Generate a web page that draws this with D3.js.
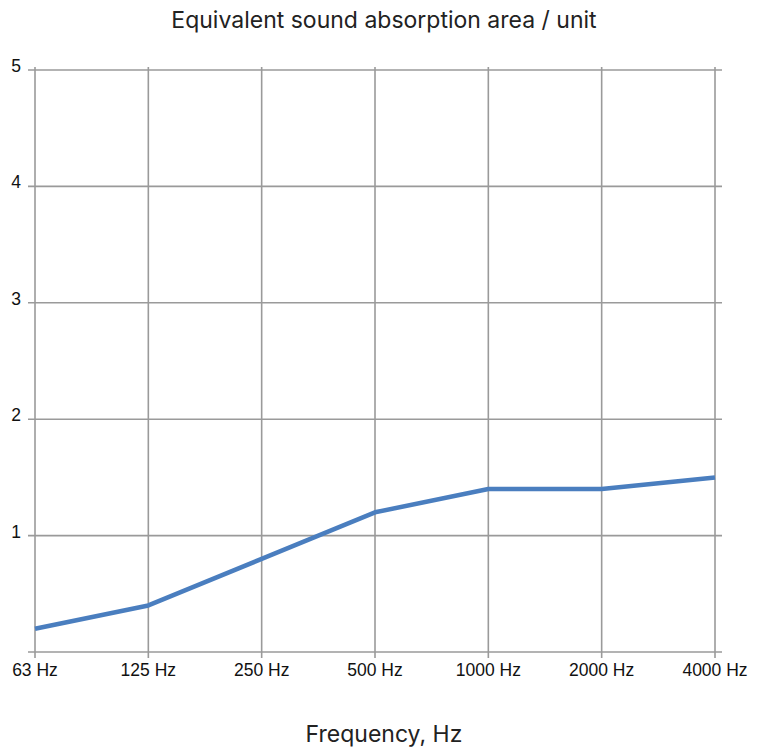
<!DOCTYPE html>
<html>
<head>
<meta charset="utf-8">
<script src="https://cdn.jsdelivr.net/npm/d3@7"></script>
<style>
  body { margin: 0; background: #fff; }
</style>
</head>
<body>
<div id="chart"></div>
<script>
const categories = ["63 Hz", "125 Hz", "250 Hz", "500 Hz", "1000 Hz", "2000 Hz", "4000 Hz"];
const values = [0.2, 0.4, 0.8, 1.2, 1.4, 1.4, 1.5];
const yTicks = [1, 2, 3, 4, 5];

const W = 761, H = 748;
const margin = { top: 70, right: 46, bottom: 96, left: 35 };
const width = W - margin.left - margin.right;
const height = H - margin.top - margin.bottom;

const svg = d3.select("#chart").append("svg")
    .attr("width", W)
    .attr("height", H);

const g = svg.append("g")
    .attr("transform", `translate(${margin.left},${margin.top})`);

const xScale = d3.scalePoint().domain(categories).range([0, width]);
const yScale = d3.scaleLinear().domain([0, 5]).range([height, 0]);

const gridColor = "#9a9a9a";

// horizontal grid + y ticks
g.selectAll(".hgrid")
    .data([0].concat(yTicks))
    .enter().append("line")
    .attr("x1", -7)
    .attr("x2", width + 7)
    .attr("y1", d => yScale(d))
    .attr("y2", d => yScale(d))
    .attr("stroke", gridColor)
    .attr("stroke-width", 1.6);

// vertical grid + x ticks
g.selectAll(".vgrid")
    .data(categories)
    .enter().append("line")
    .attr("x1", d => xScale(d))
    .attr("x2", d => xScale(d))
    .attr("y1", -3)
    .attr("y2", height + 6)
    .attr("stroke", gridColor)
    .attr("stroke-width", 1.6);

// y labels
g.selectAll(".ylab")
    .data(yTicks)
    .enter().append("text")
    .attr("x", -19)
    .attr("y", d => yScale(d) + 2)
    .attr("text-anchor", "middle")
    .style("font-family", "'Liberation Sans', Arial, sans-serif")
    .style("font-size", "17.5px")
    .attr("fill", "#111")
    .text(d => d);

// x labels
g.selectAll(".xlab")
    .data(categories)
    .enter().append("text")
    .attr("x", d => xScale(d))
    .attr("y", height + 24)
    .attr("text-anchor", "middle")
    .style("font-family", "'Liberation Sans', Arial, sans-serif")
    .style("font-size", "17.5px")
    .attr("fill", "#111")
    .text(d => d);

// series line
const line = d3.line()
    .x((d, i) => xScale(categories[i]))
    .y(d => yScale(d));

g.append("path")
    .datum(values)
    .attr("d", line)
    .attr("fill", "none")
    .attr("stroke", "#4a7ebf")
    .attr("stroke-width", 4.5)
    .attr("stroke-linejoin", "round");

// title
svg.append("text")
    .attr("x", 384)
    .attr("y", 28)
    .attr("text-anchor", "middle")
    .style("font-family", "Inter, Roboto, sans-serif")
    .style("font-size", "23px")
    .attr("fill", "#222")
    .text("Equivalent sound absorption area / unit");

// x axis title
svg.append("text")
    .attr("x", 384)
    .attr("y", 742)
    .attr("text-anchor", "middle")
    .style("font-family", "Inter, Roboto, sans-serif")
    .style("font-size", "23px")
    .attr("fill", "#222")
    .text("Frequency, Hz");
</script>
</body>
</html>
